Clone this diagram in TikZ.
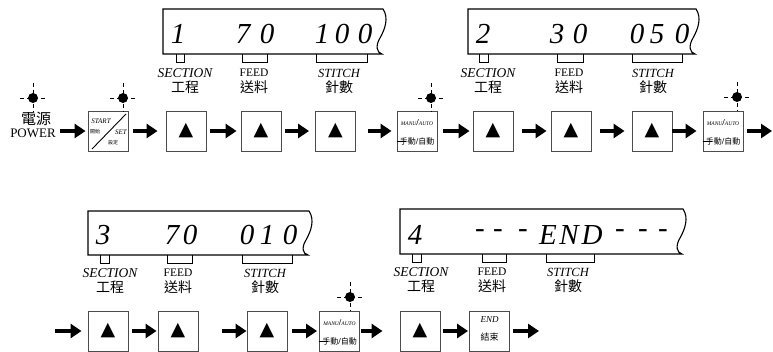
\documentclass[tikz,border=0pt]{standalone}
\usepackage{fontspec}
\setmainfont{Liberation Serif}
\newfontfamily\cjk{Noto Sans CJK TC}
\newfontfamily\symb{DejaVu Sans}
\usetikzlibrary{arrows.meta}
\newcommand\uptri{{\symb\fontsize{19}{19}\selectfont ▲}}
\tikzset{
  btn/.style={draw=black!70,line width=0.9pt,minimum width=40pt,minimum height=40pt,inner sep=0pt},
  flow/.style={line width=3.5pt,-{Triangle[length=11pt,width=14pt]},shorten <=4pt,shorten >=4pt},
  lcd/.style={line width=1.1pt},
  tabline/.style={line width=0.9pt},
  digit/.style={inner sep=0pt,font=\fontsize{29}{29}\selectfont\itshape},
  sec/.style={inner sep=0pt,font=\fontsize{13.5}{14}\selectfont\itshape},
  feed/.style={inner sep=0pt,font=\fontsize{11.5}{12}\selectfont},
  stitch/.style={inner sep=0pt,font=\fontsize{12.5}{13}\selectfont\itshape},
  zh/.style={inner sep=0pt,font=\fontsize{14}{14}\selectfont\cjk},
  lamp/.style={line width=0.8pt,dash pattern=on 4pt off 3pt},
  tiny/.style={inner sep=0pt,font=\fontsize{7}{7}\selectfont\itshape},
  tinyzh/.style={inner sep=0pt,font=\fontsize{5}{5}\selectfont\cjk}
}
\begin{document}
\begin{tikzpicture}[x=1pt,y=-1pt]
  \useasboundingbox (0,0) rectangle (773,352);
  % displays
  \foreach \l/\t/\r/\b in {163/9/383/54, 468/9/696/54, 88/211/309/255, 400/209/683/254}
    \draw[lcd] (\l,\b) -- (\l,\t) -- (\r,\t)
      .. controls (\r+6,\t+9) and (\r+2,\t+20) .. (\r-3,\t+29)
      .. controls (\r-8,\t+37) and (\r-6,\b-1) .. (\r-1,\b) -- cycle;
  \foreach \a/\c/\b in {176/184/54, 242/267/54, 316/367/54, 479/488/54, 557/583/54, 632/682/54,
                        100/109/255, 167/192/255, 242/292/255, 412/421/254, 482/506/254, 546/594/254}
    \draw[tabline] (\a,\b) -- (\a,\b+8) -- (\c,\b+8) -- (\c,\b);
  \foreach \x/\y/\c [count=\i] in {178/34/1, 243/34/7, 267/34/0, 322/34/1, 342/34/0, 365/34/0,
      483/34/2, 557/34/3, 580/34/0, 637/34/0, 657/34/5, 682/34/0,
      103/235/3, 172/235/7, 190/235/0, 247/235/0, 267/235/1, 290/235/0,
      415/235/4, 480/234/-, 498/234/-, 523/234/-, 548/235/E, 569/235/N, 592/235/D,
      620/234/-, 643/234/-, 663/234/-}
    \node[digit] (ch\i) at (\x,\y) {\c};
  \foreach \n/\s/\f/\t/\y in {1/185/254/339/73, 2/488/569/653/73, 3/110/178/265/273, 4/421/492/568/272} {
    \node[sec] (sec\n) at (\s,\y) {SECTION};
    \node[zh] (secz\n) at (\s,\y+14) {工程};
    \node[feed] (feed\n) at (\f,\y) {FEED};
    \node[zh] (feedz\n) at (\f,\y+14) {送料};
    \node[stitch] (sti\n) at (\t,\y) {STITCH};
    \node[zh] (stiz\n) at (\t,\y+14) {針數};
  }
  % keys
  \node[inner sep=0pt,font=\fontsize{15}{15}\selectfont\cjk] (pwz) at (36,119) {電源};
  \node[inner sep=0pt,font=\fontsize{13}{13}\selectfont] (pw) at (33,133) {POWER};
  \node[btn] (st) at (108,131) {};
  \draw[line width=0.9pt] (92,149) -- (126,114);
  \node[tiny] (stA) at (101,121) {START};
  \node[tinyzh] (stB) at (95,132) {開始};
  \node[tiny] (stC) at (121,132) {SET};
  \node[tinyzh] (stD) at (113,143) {設定};
  \foreach \n/\x/\y in {a1/186/131, a2/261/131, a3/335.5/131, b1/493/131, b2/571/131, b3/652/131,
                        c1/108/331, c2/178/331, c3/267/331, d1/420/331}
    \node[btn] (\n) at (\x,\y) {\uptri};
  \foreach \n/\x/\y in {m1/417/131, m2/723/131, m3/339.5/331} {
    \node[btn] (\n) at (\x,\y) {};
    \node[inner sep=0pt] (\n-up) at ([yshift=8pt]\n.center)
      {{\fontsize{5.5}{6}\selectfont\itshape MANU}{\fontsize{9}{9}\selectfont\bfseries/}{\fontsize{5.5}{6}\selectfont\itshape AUTO}};
    \node[inner sep=0pt] (\n-dn) at ([yshift=-10pt]\n.center)
      {{\cjk\fontsize{8}{8}\selectfont 手動}{\fontsize{9}{9}\selectfont\bfseries/}{\cjk\fontsize{8}{8}\selectfont 自動}};
    \draw[line width=0.8pt] ([yshift=-10pt]\n.west) -- ++(9,0);
  }
  \node[btn] (en) at (489.5,331) {};
  \node[inner sep=0pt,font=\fontsize{9}{9}\selectfont\itshape] (en-up) at ([yshift=11pt]en.center) {END};
  \node[inner sep=0pt,font=\fontsize{9}{9}\selectfont\cjk] (en-dn) at ([yshift=-6pt]en.center) {結束};
  % lamps
  \foreach \x/\y in {33/98, 123/98, 431/98, 737/97, 350/297} {
    \draw[lamp] (\x,\y-15) -- (\x,\y+14) (\x-13,\y) -- (\x+13,\y);
    \fill (\x,\y) circle[radius=5pt];
  }
  % arrows
  \coordinate (out1) at (772,131);
  \coordinate (in2) at (55,331);
  \coordinate (out2) at (539,331);
  \draw[flow,shorten <=4pt,shorten >=2pt] (pw.east |- st) -- (st);
  \draw[flow,shorten <=5pt,shorten >=8pt] (st) -- (a1);
  \draw[flow] (a1) -- (a2);
  \draw[flow,shorten >=6pt] (a2) -- (a3);
  \draw[flow,shorten <=12pt,shorten >=5pt] (a3) -- (m1);
  \draw[flow,shorten <=6pt,shorten >=3pt] (m1) -- (b1);
  \draw[flow,shorten <=9pt] (b1) -- (b2);
  \draw[flow,shorten <=9pt,shorten >=7pt] (b2) -- (b3);
  \draw[flow,shorten <=0pt,shorten >=6pt] (b3) -- (m2);
  \draw[flow,shorten >=0pt] (m2) -- (out1);
  \draw[flow,shorten <=0pt,shorten >=6pt] (in2) -- (c1);
  \draw[flow,shorten >=1pt] (c1) -- (c2);
  \draw[flow,shorten <=24pt,shorten >=0pt] (c2) -- (c3);
  \draw[flow,shorten <=5pt,shorten >=2pt] (c3) -- (m3);
  \draw[flow,shorten <=1pt,shorten >=17pt] (m3) -- (d1);
  \draw[flow,shorten <=3pt,shorten >=1pt] (d1) -- (en);
  \draw[flow,shorten <=3pt,shorten >=0pt] (en) -- (out2);
\end{tikzpicture}
\end{document}
